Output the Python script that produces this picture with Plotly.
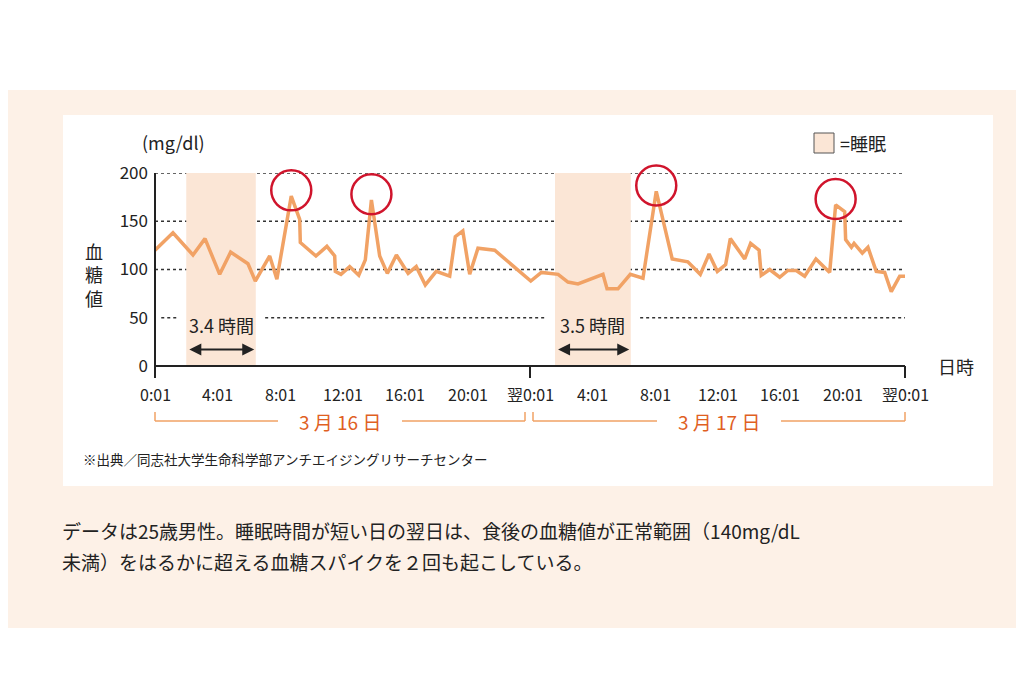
import plotly.graph_objects as go

# data (hours since 0:01 on 3/16, mg/dl)
hours = [0, 1.15, 2.43, 3.2, 4.14, 4.84, 5.95, 6.42, 7.34, 7.8, 8.72, 9.26, 9.3, 10.3, 11.0, 11.5,
         11.54, 11.9, 12.46, 13.04, 13.46, 13.85, 14.38, 14.87, 15.45, 16.2, 16.72, 17.3, 18.0,
         18.86, 19.22, 19.7, 20.14, 20.67, 21.74, 24.05, 24.73, 25.8, 26.43, 27.07, 28.67, 28.93,
         29.63, 30.42, 31.23, 32.08, 33.1, 34.1, 34.9, 35.46, 35.99, 36.52, 36.82, 37.74, 38.12,
         38.66, 38.8, 39.34, 39.98, 40.5, 41.04, 41.58, 42.3, 43.18, 43.56, 44.14, 44.2, 44.57,
         44.74, 45.27, 45.63, 46.16, 46.7, 47.12, 47.66, 48]
glucose = [120, 138, 115, 132, 95, 118, 106, 88, 114, 90, 176, 152, 128, 114, 124, 114,
           98, 95, 103, 94, 110, 172, 114, 96, 115, 96, 103, 84, 98,
           93, 134, 140, 95, 122, 120, 88, 97, 95, 87, 85, 95, 80,
           80, 95, 91, 181, 111, 108, 95, 116, 98, 105, 132, 111, 127,
           120, 94, 100, 92, 99, 99, 93, 111, 97, 167, 160, 131, 123,
           127, 117, 123, 98, 97, 77, 93, 93]
spike_h = [8.72, 13.85, 32.08, 43.56]
spike_v = [176, 172, 181, 167]
sleep = [(2.0, 6.45, "3.4 時間"), (25.6, 30.45, "3.5 時間")]
tick_h = list(range(0, 49, 4))
tick_txt = ["0:01", "4:01", "8:01", "12:01", "16:01", "20:01", "翌0:01",
            "4:01", "8:01", "12:01", "16:01", "20:01", "翌0:01"]
days = [(0, 24, "3 月 16 日"), (24, 48, "3 月 17 日")]

W, H = 1024, 683
X0, X1, Y0, Y1 = 147, 897, 165, 358
px = lambda x: x / W
py = lambda y: 1 - y / H
hx = lambda h: X0 + (X1 - X0) * h / 48  # hour -> pixel

FONT = "Noto Sans CJK JP"
ORANGE = "#f1a265"
RED = "#e0601f"

fig = go.Figure()
fig.add_trace(go.Scatter(x=hours, y=glucose, mode="lines",
                         line=dict(color=ORANGE, width=3.5), hoverinfo="skip"))
fig.add_trace(go.Scatter(x=spike_h, y=[v + 6 for v in spike_v], mode="markers", cliponaxis=False,
                         marker=dict(symbol="circle-open", size=40, color="#d0142c",
                                     line=dict(width=2.5, color="#d0142c")),
                         hoverinfo="skip"))

def pline(x0, y0, x1, y1, color="#222", width=2):
    return dict(type="line", xref="paper", yref="paper", x0=px(x0), x1=px(x1), y0=py(y0), y1=py(y1),
                line=dict(color=color, width=width))

def text(t, x, y, size, color="#222", anchor="center"):
    return dict(x=px(x), y=py(y), xref="paper", yref="paper", text=t, showarrow=False,
                xanchor=anchor, yanchor="middle", font=dict(size=size, color=color))

shapes = [
    dict(type="rect", xref="paper", yref="paper", x0=0, x1=1, y0=py(620), y1=py(82),
         fillcolor="#fdf1e7", line_width=0, layer="below"),
    dict(type="rect", xref="paper", yref="paper", x0=px(55), x1=px(985), y0=py(478), y1=py(107),
         fillcolor="white", line_width=0, layer="below"),
]
dot = dict(color="#333", width=1.5, dash="dot")
for v in [100, 150, 200]:
    shapes.append(dict(type="line", xref="x", yref="y", x0=0, x1=48, y0=v, y1=v, line=dot, layer="below"))
# the 50 line is broken around the sleep labels
cuts = [0.4]
for a, b, _ in sleep:
    cuts += [a - 0.6, b + 0.6]
cuts.append(48)
for i in range(0, len(cuts), 2):
    shapes.append(dict(type="line", xref="x", yref="y", x0=cuts[i], x1=cuts[i + 1], y0=50, y1=50,
                       line=dot, layer="below"))

annots = []
for a, b, lab in sleep:
    shapes.append(dict(type="rect", xref="x", yref="y", x0=a, x1=b, y0=0, y1=200,
                       fillcolor="#fbe6d6", line_width=0, layer="below"))
    annots.append(dict(x=(a + b) / 2, y=43, xref="x", yref="y", text=lab, showarrow=False,
                       xanchor="center", font=dict(size=18, color="#222")))
    annots.append(dict(x=b - 0.1, y=17, ax=a + 0.1, ay=17, xref="x", yref="y", axref="x", ayref="y",
                       text="", showarrow=True, arrowhead=2, arrowsize=1.2, arrowwidth=2,
                       arrowcolor="#222", startarrowhead=2, arrowside="end+start", startarrowsize=1.2))
# axes and ticks
shapes.append(pline(X0, Y1, X0, Y0))
shapes.append(pline(X0, Y1, X1, Y1))
for h in [0, 24, 48]:
    shapes.append(pline(hx(h), Y1, hx(h), Y1 + 12))
for h, t in zip(tick_h, tick_txt):
    annots.append(text(t, hx(h), 386, 16))
# day brackets
for a, b, lab in days:
    l, r = hx(a) + (0 if a == 0 else 3), hx(b) - (5 if b == 24 else 0)
    m = (l + r) / 2
    shapes += [pline(l, 404, l, 413, ORANGE, 1.5), pline(l, 413, m - 62, 413, ORANGE, 1.5),
               pline(m + 62, 413, r, 413, ORANGE, 1.5), pline(r, 413, r, 404, ORANGE, 1.5)]
    annots.append(text(lab, m, 413, 19, RED))

annots += [
    text("(mg/dl)", 165, 134, 18),
    text("日時", 948, 358, 18),
    text("血<br>糖<br>値", 86, 266, 18),
    text("=睡眠", 830, 135, 18, anchor="left"),
    text("※出典／同志社大学生命科学部アンチエイジングリサーチセンター", 73, 451, 13.5, anchor="left"),
    text("データは25歳男性。睡眠時間が短い日の翌日は、食後の血糖値が正常範囲（140mg/dL", 52, 522, 19, anchor="left"),
    text("未満）をはるかに超える血糖スパイクを２回も起こしている。", 52, 553, 19, anchor="left"),
]
shapes.append(dict(type="rect", xref="paper", yref="paper", x0=px(806), x1=px(826), y0=py(145), y1=py(125),
                   fillcolor="#fbe6d6", line=dict(color="#555", width=1)))

fig.update_layout(
    width=W, height=H, margin=dict(l=0, r=0, t=0, b=0, autoexpand=False), showlegend=False,
    paper_bgcolor="white", plot_bgcolor="rgba(0,0,0,0)",
    font=dict(family=FONT, color="#222"),
    xaxis=dict(domain=[px(X0), px(X1)], range=[0, 48], showgrid=False, zeroline=False,
               showticklabels=False, fixedrange=True, automargin=False),
    yaxis=dict(domain=[py(Y1), py(Y0)], range=[0, 200], showgrid=False, zeroline=False,
               tickvals=[0, 50, 100, 150, 200], ticks="", tickfont=dict(size=17, color="#222"),
               ticklabelstandoff=6, fixedrange=True, automargin=False),
    shapes=shapes, annotations=annots,
)
fig.write_html("out.html")
